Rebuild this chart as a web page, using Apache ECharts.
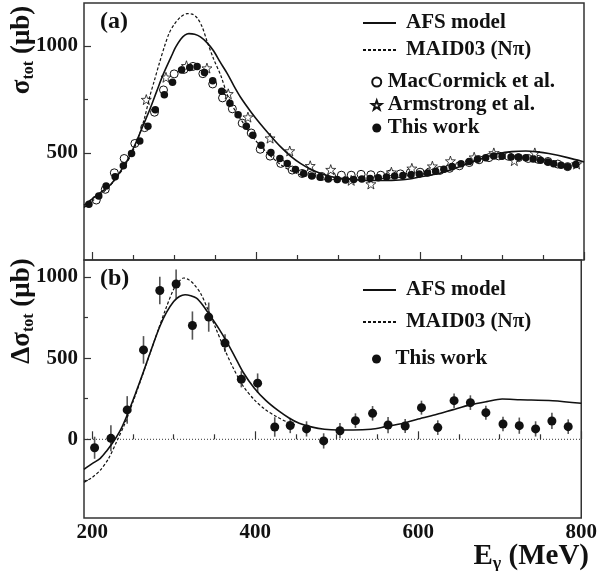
<!DOCTYPE html>
<html>
<head>
<meta charset="utf-8">
<script src="https://cdn.jsdelivr.net/npm/echarts@6/dist/echarts.min.js"></script>
<style>
  html, body { margin: 0; padding: 0; background: #fff; }
  #box { width: 600px; height: 571px; }
</style>
</head>
<body>
<div id="box"></div>
<script>
// (a) total cross section, this work
var twE = [196, 208, 217, 228, 238, 248, 258, 268, 277, 288, 298, 309, 319, 328, 337, 347, 358, 368, 378, 388,
    396, 406, 418, 429, 438, 448, 458, 468, 478, 488, 499, 509, 519, 529, 539, 549, 559, 569, 579, 589,
    599, 609, 619, 629, 639, 650, 660, 670, 680, 690, 700, 711, 720, 729, 738, 747, 756, 763, 772, 780, 790]
var twS = [260, 299, 345, 389, 440, 497, 556, 624, 701, 772, 830, 887, 899, 904, 876, 837, 788, 732, 678, 624,
    582, 536, 502, 474, 451, 423, 404, 392, 386, 378, 376, 373, 376, 378, 380, 384, 388, 392, 394, 398,
    402, 406, 414, 424, 436, 450, 460, 470, 478, 486, 484, 481, 480, 477, 472, 466, 458, 450, 442, 435, 446]

// MacCormick et al.
var mcE = [205, 216, 227, 239, 252, 264, 276, 287, 300, 312, 323, 335, 347, 359, 371, 383, 394, 405, 417, 430,
    444, 456, 468, 480, 492, 504, 516, 528, 540, 552, 564, 576, 588, 600, 612, 624, 636, 648, 660, 672,
    684, 696, 708, 720, 732, 744, 756, 768, 780]
var mcS = [280, 330, 407, 474, 544, 618, 690, 794, 869, 890, 904, 870, 822, 757, 706, 639, 593, 517, 485, 451,
    420, 404, 398, 390, 392, 396, 396, 400, 398, 396, 402, 402, 408, 410, 412, 418, 428, 440, 455, 468,
    478, 486, 484, 478, 474, 470, 460, 448, 436]

// Armstrong et al.
var arE = [266, 290, 315, 340, 366, 390, 417, 441, 466, 491, 516, 540, 565, 590, 615, 637, 666, 690, 715, 740, 791]
var arS = [749, 853, 907, 896, 776, 667, 569, 509, 440, 422, 372, 355, 410, 428, 438, 462, 480, 500, 464, 500, 448]

// models, panel (a)
var afsTopE = [190, 200, 210, 222, 232, 243, 253, 263, 271, 279, 287, 296, 302, 308, 313, 318, 325, 332, 340, 348,
    356, 365, 373, 381, 393, 405, 418, 430, 442, 454, 466, 479, 491, 503, 520, 544, 565, 582, 600, 623,
    643, 664, 680, 696, 712, 729, 743, 757, 780, 800]
var afsTopS = [255, 285, 315, 350, 400, 466, 545, 636, 710, 791, 870, 946, 995, 1031, 1050, 1057, 1054, 1042, 1015, 977,
    925, 869, 812, 760, 695, 636, 578, 528, 485, 451, 425, 404, 390, 381, 375, 371, 372, 376, 388, 404,
    428, 458, 480, 497, 506, 509, 505, 497, 478, 458]
var maidTopE = [190, 200, 210, 220, 230, 240, 250, 258, 264, 270, 276, 282, 288, 294, 300, 308, 316, 322, 328, 334,
    340, 348, 357, 365, 374, 386, 400, 415, 430, 445, 460, 470]
var maidTopS = [245, 275, 305, 340, 385, 440, 510, 590, 665, 760, 840, 920, 995, 1060, 1100, 1135, 1150, 1148, 1131, 1090,
    1023, 940, 860, 770, 700, 630, 555, 495, 445, 412, 392, 385]

// (b) helicity difference, this work
var bE = [203, 223, 243, 263, 283, 303, 323, 343, 363, 383, 403, 424, 443, 463, 484, 504, 523, 544, 563, 584,
    604, 624, 644, 664, 683, 704, 724, 744, 764, 784]
var bD = [-52, 6, 181, 551, 917, 957, 701, 753, 593, 370, 346, 76, 85, 64, -10, 53, 115, 160, 88, 82,
    195, 72, 238, 226, 164, 94, 84, 64, 113, 78]
var bErr = [68, 80, 85, 85, 85, 90, 87, 90, 55, 50, 60, 60, 47, 47, 47, 47, 45, 45, 50, 43,
    43, 45, 45, 45, 43, 45, 50, 47, 50, 45]

// models, panel (b)
var afsBotE = [190, 200, 210, 218, 226, 235, 243, 253, 263, 273, 283, 291, 300, 307, 314, 321, 328, 336, 344, 355,
    365, 375, 385, 399, 413, 428, 442, 454, 470, 485, 501, 520, 542, 560, 582, 600, 623, 643, 664, 684,
    703, 725, 765, 800]
var afsBotD = [-185, -150, -117, -70, -15, 60, 150, 280, 417, 560, 695, 780, 849, 880, 891, 885, 870, 825, 767, 685,
    602, 510, 415, 315, 240, 178, 130, 99, 75, 62, 57, 57, 62, 78, 99, 125, 154, 183, 212, 232,
    248, 244, 238, 222]
var maidBotE = [190, 200, 210, 220, 230, 240, 250, 260, 270, 280, 290, 300, 307, 312, 318, 325, 333, 342, 352, 362,
    372, 385, 399, 412, 426, 440, 450]
var maidBotD = [-265, -235, -190, -120, -15, 95, 230, 370, 515, 660, 800, 925, 975, 994, 985, 955, 900, 800, 680, 560,
    450, 330, 243, 185, 140, 105, 88]

// ticks
var xMajor = [200, 400, 600, 800]
var xMinor = [250, 300, 350, 450, 500, 550, 650, 700, 750]
var yTopMajor = [500, 1000]
var yTopMinor = [250, 750]
var yBotMajor = [0, 500, 1000]
var yBotMinor = [-250, 250, 750]

function zip(a, b, c) {
    return a.map(function (v, i) {
        return c ? [v, b[i], c[i]] : [v, b[i]]
    })
}

var serif = "'Liberation Serif', 'Times New Roman', serif"
var ink = '#111'
var frame = '#333'
var star = 'path://M0,-10L2.35,-3.24L9.51,-3.09L3.8,1.24L5.88,8.09L0,4L-5.88,8.09L-3.8,1.24L-9.51,-3.09L-2.35,-3.24Z'

function plain(v) {
    return String(v)
}

function xAxisOf(grid, values, len, labels) {
    return {
        gridIndex: grid, type: 'value', min: 190, max: 800, position: 'bottom',
        axisLine: { show: false },
        splitLine: { show: false },
        axisTick: { show: true, inside: true, length: len, customValues: values, lineStyle: { color: frame, width: 1.2 } },
        axisLabel: labels ? { show: true, customValues: values, formatter: plain, margin: 4, color: ink, fontFamily: serif, fontWeight: 'bold', fontSize: 21 } : { show: false }
    }
}

function yAxisOf(grid, min, max, values, len, labels) {
    return {
        gridIndex: grid, type: 'value', min: min, max: max, position: 'left',
        axisLine: { show: false },
        splitLine: { show: false },
        axisTick: { show: true, inside: true, length: len, customValues: values, lineStyle: { color: frame, width: 1.2 } },
        axisLabel: labels ? { show: true, customValues: values, formatter: plain, margin: 6, color: ink, fontFamily: serif, fontWeight: 'bold', fontSize: 21 } : { show: false }
    }
}

var legendText = { color: ink, fontFamily: serif, fontWeight: 'bold', fontSize: 21, lineHeight: 22 }
// line legend entries: hide the dot ECharts puts on the line sample
var lineItems = [
    { name: 'AFS model', itemStyle: { opacity: 0 } },
    { name: 'MAID03 (Nπ)', itemStyle: { opacity: 0 } }
]

var chart = echarts.init(document.getElementById('box'))
var option = {
    animation: false,
    backgroundColor: '#fff',
    grid: [
        { left: 84, width: 500, top: 3, height: 257, show: true, borderColor: frame, borderWidth: 1.5 },
        { left: 84, width: 500, top: 260, height: 258, show: true, borderColor: frame, borderWidth: 1.5 }
    ],
    xAxis: [
        xAxisOf(0, xMajor, 8, false),
        xAxisOf(0, xMinor, 5, false),
        xAxisOf(1, xMajor, 8, true),
        xAxisOf(1, xMinor, 5, false)
    ],
    yAxis: [
        yAxisOf(0, 0, 1200, yTopMajor, 7, true),
        yAxisOf(0, 0, 1200, yTopMinor, 4, false),
        yAxisOf(1, -485, 1105, yBotMajor, 7, true),
        yAxisOf(1, -485, 1105, yBotMinor, 4, false)
    ],
    legend: [
        {
            data: lineItems, orient: 'vertical', left: 362, top: 12, padding: 0,
            itemWidth: 33, itemHeight: 14, itemGap: 5, selectedMode: false,
            textStyle: Object.assign({ padding: [0, 0, 0, 5] }, legendText)
        },
        {
            data: ['MacCormick et al.', 'Armstrong et al.', 'This work'], orient: 'vertical', left: 371, top: 71, padding: 0,
            itemWidth: 12, itemHeight: 9, itemGap: 1, selectedMode: false,
            textStyle: legendText
        },
        {
            data: lineItems, orient: 'vertical', left: 362, top: 279, padding: 0,
            itemWidth: 33, itemHeight: 14, itemGap: 10, selectedMode: false,
            textStyle: Object.assign({ padding: [0, 0, 0, 5] }, legendText)
        },
        {
            data: ['This work'], orient: 'vertical', left: 372, top: 348, padding: 0,
            itemWidth: 12, itemHeight: 9, selectedMode: false,
            textStyle: Object.assign({ padding: [0, 0, 0, 8] }, legendText)
        }
    ],
    graphic: [
        { type: 'text', x: 100, y: 22, style: { text: '(a)', fill: ink, font: 'bold 24px ' + serif, verticalAlign: 'middle' } },
        { type: 'text', x: 100, y: 279, style: { text: '(b)', fill: ink, font: 'bold 24px ' + serif, verticalAlign: 'middle' } },
        {
            type: 'text', x: 22, y: 50, rotation: Math.PI / 2,
            style: {
                text: '{m|σ}{s|tot}{m| (μb)}', align: 'center', verticalAlign: 'middle', fill: ink,
                rich: {
                    m: { fontFamily: serif, fontWeight: 'bold', fontSize: 27, lineHeight: 30, verticalAlign: 'middle', fill: ink },
                    s: { fontFamily: serif, fontWeight: 'bold', fontSize: 16, lineHeight: 16, verticalAlign: 'bottom', fill: ink }
                }
            }
        },
        {
            type: 'text', x: 22, y: 311, rotation: Math.PI / 2,
            style: {
                text: '{m|Δσ}{s|tot}{m| (μb)}', align: 'center', verticalAlign: 'middle', fill: ink,
                rich: {
                    m: { fontFamily: serif, fontWeight: 'bold', fontSize: 27, lineHeight: 30, verticalAlign: 'middle', fill: ink },
                    s: { fontFamily: serif, fontWeight: 'bold', fontSize: 16, lineHeight: 16, verticalAlign: 'bottom', fill: ink }
                }
            }
        },
        {
            type: 'text', x: 589, y: 557,
            style: {
                text: '{m|E}{s|γ}{m| (MeV)}', align: 'right', verticalAlign: 'middle', fill: ink,
                rich: {
                    m: { fontFamily: serif, fontWeight: 'bold', fontSize: 29, lineHeight: 32, verticalAlign: 'middle', fill: ink },
                    s: { fontFamily: serif, fontWeight: 'bold', fontSize: 18, lineHeight: 18, verticalAlign: 'bottom', fill: ink }
                }
            }
        }
    ],
    series: [
        // panel (a)
        {
            name: 'AFS model', type: 'line', xAxisIndex: 0, yAxisIndex: 0, data: zip(afsTopE, afsTopS),
            symbol: 'none', smooth: 0.3, lineStyle: { color: ink, width: 1.6 }, itemStyle: { color: ink }
        },
        {
            name: 'MAID03 (Nπ)', type: 'line', xAxisIndex: 0, yAxisIndex: 0, data: zip(maidTopE, maidTopS),
            symbol: 'none', smooth: 0.3, lineStyle: { color: ink, width: 1.2, type: [3, 2] }, itemStyle: { color: ink }
        },
        {
            name: 'MacCormick et al.', type: 'scatter', xAxisIndex: 0, yAxisIndex: 0, data: zip(mcE, mcS),
            symbol: 'circle', symbolSize: 8, itemStyle: { color: '#fff', borderColor: ink, borderWidth: 1, opacity: 1 }
        },
        {
            name: 'Armstrong et al.', type: 'scatter', xAxisIndex: 0, yAxisIndex: 0, data: zip(arE, arS),
            symbol: star, symbolSize: 10, itemStyle: { color: '#fff', borderColor: ink, borderWidth: 0.8, opacity: 1 }
        },
        {
            name: 'This work', type: 'scatter', xAxisIndex: 0, yAxisIndex: 0, data: zip(twE, twS),
            symbol: 'circle', symbolSize: 7.5, itemStyle: { color: ink, opacity: 1 }
        },
        // panel (b)
        {
            name: 'zero', type: 'line', xAxisIndex: 2, yAxisIndex: 2, data: [[190, 0], [800, 0]],
            symbol: 'none', lineStyle: { color: '#333', width: 1, type: [1, 2] }
        },
        {
            name: 'AFS model', type: 'line', xAxisIndex: 2, yAxisIndex: 2, data: zip(afsBotE, afsBotD),
            symbol: 'none', smooth: 0.3, lineStyle: { color: ink, width: 1.6 }, itemStyle: { color: ink }
        },
        {
            name: 'MAID03 (Nπ)', type: 'line', xAxisIndex: 2, yAxisIndex: 2, data: zip(maidBotE, maidBotD),
            symbol: 'none', smooth: 0.3, lineStyle: { color: ink, width: 1.2, type: [3, 2] }, itemStyle: { color: ink }
        },
        {
            name: 'errors', type: 'custom', xAxisIndex: 2, yAxisIndex: 2, data: zip(bE, bD, bErr),
            encode: { x: 0, y: 1 },
            renderItem: function (params, api) {
                var x = api.value(0), y = api.value(1), e = api.value(2)
                var p1 = api.coord([x, y - e])
                var p2 = api.coord([x, y + e])
                return {
                    type: 'line',
                    shape: { x1: p1[0], y1: p1[1], x2: p2[0], y2: p2[1] },
                    style: { stroke: '#555', lineWidth: 1.6 }
                }
            }
        },
        {
            name: 'This work', type: 'scatter', xAxisIndex: 2, yAxisIndex: 2, data: zip(bE, bD),
            symbol: 'circle', symbolSize: 9, itemStyle: { color: ink, opacity: 1 }, z: 3
        }
    ]
}
chart.setOption(option)
</script>
</body>
</html>
